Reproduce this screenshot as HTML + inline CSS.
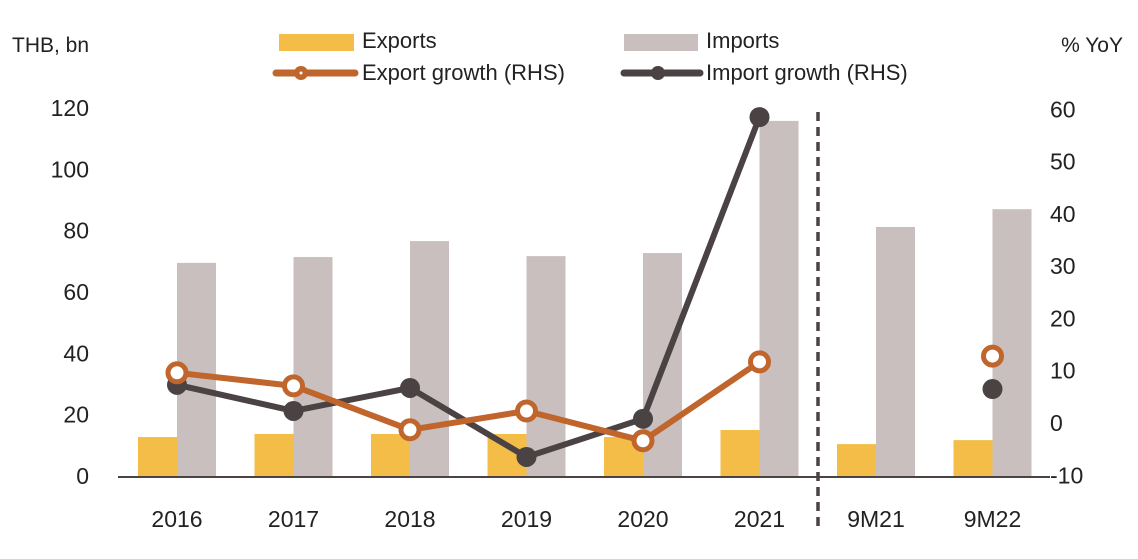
<!DOCTYPE html>
<html><head><meta charset="utf-8"><style>
body{margin:0;background:#fff;}
svg text{font-family:"Liberation Sans",sans-serif;fill:#222;}
</style></head><body>
<svg id="c" width="1138" height="554">
<text x="12" y="52" font-size="21">THB, bn</text>
<text x="1123" y="52" font-size="21" text-anchor="end">% YoY</text>
<g>
<rect x="279" y="34" width="75" height="17" fill="#F3BD48"/>
<text x="362" y="48" font-size="22">Exports</text>
<rect x="624" y="34" width="74" height="17" fill="#C9BFBE"/>
<text x="706" y="48" font-size="22">Imports</text>
<line x1="276" y1="73" x2="355" y2="73" stroke="#C0652B" stroke-width="7" stroke-linecap="round"/>
<circle cx="301" cy="73" r="7" fill="#C0652B"/><circle cx="301" cy="73" r="1.5" fill="#fff"/>
<text x="362" y="80" font-size="22">Export growth (RHS)</text>
<line x1="624" y1="73" x2="700" y2="73" stroke="#4A4243" stroke-width="7" stroke-linecap="round"/>
<circle cx="658" cy="73" r="7" fill="#4A4243"/>
<text x="706" y="80" font-size="22">Import growth (RHS)</text>
</g>
<g id="g"></g>
</svg>
<script>
const categories=["2016","2017","2018","2019","2020","2021","9M21","9M22"];
const exportsVals=[12.7,13.7,13.7,13.7,12.7,15,10.4,11.7];
const importsVals=[69.5,71.4,76.6,71.7,72.7,115.8,81.2,87];
const exportGrowth=[9.6,7.1,-1.3,2.3,-3.4,11.7,null,12.8];
const importGrowth=[7.3,2.3,6.7,-6.5,0.8,58.5,null,6.5];
const leftTicks=[0,20,40,60,80,100,120];
const rightTicks=[-10,0,10,20,30,40,50,60];
const NS="http://www.w3.org/2000/svg",g=document.getElementById('g');
const yL=v=>476-v*(368/120), yR=v=>423-v*(366/70), xC=i=>177+i*116.5;
function el(t,a,p){const e=document.createElementNS(NS,t);for(const k in a)e.setAttribute(k,a[k]);(p||g).appendChild(e);return e;}
leftTicks.forEach(v=>{const t=el('text',{x:89,y:yL(v)+8,'font-size':23,'text-anchor':'end'});t.textContent=v;

});
rightTicks.forEach(v=>{const t=el('text',{x:1050,y:yR(v)+8,'font-size':23});t.textContent=v;

});
categories.forEach((c,i)=>{
const x=xC(i);
const b1=el('rect',{x:x-39,y:yL(exportsVals[i]),width:39,height:476-yL(exportsVals[i]),fill:'#F3BD48'});


const b2=el('rect',{x:x,y:yL(importsVals[i]),width:39,height:476-yL(importsVals[i]),fill:'#C9BFBE'});


const t=el('text',{x:x,y:527,'font-size':23,'text-anchor':'middle'});t.textContent=c;


});
const ax=el('line',{x1:118,y1:477,x2:1050,y2:477,stroke:'#4A4243','stroke-width':2});


const dl=el('line',{x1:818,y1:112,x2:818,y2:532,stroke:'#4A4243','stroke-width':3.5,'stroke-dasharray':'9,6'});


function series(vals,color,name,hollow){
let pts=[];for(let i=0;i<6;i++)pts.push(xC(i)+','+yR(vals[i]));
const p=el('polyline',{points:pts.join(' '),fill:'none',stroke:color,'stroke-width':6,'stroke-linejoin':'round'});


vals.forEach((v,i)=>{if(v===null)return;
const c=el('circle',{cx:xC(i),cy:yR(v),r:hollow?9:10,fill:hollow?'#fff':color,stroke:color,'stroke-width':hollow?5:0});

});
}
series(importGrowth,'#4A4243','import-growth',false);
series(exportGrowth,'#C0652B','export-growth',true);
</script>
</body></html>
